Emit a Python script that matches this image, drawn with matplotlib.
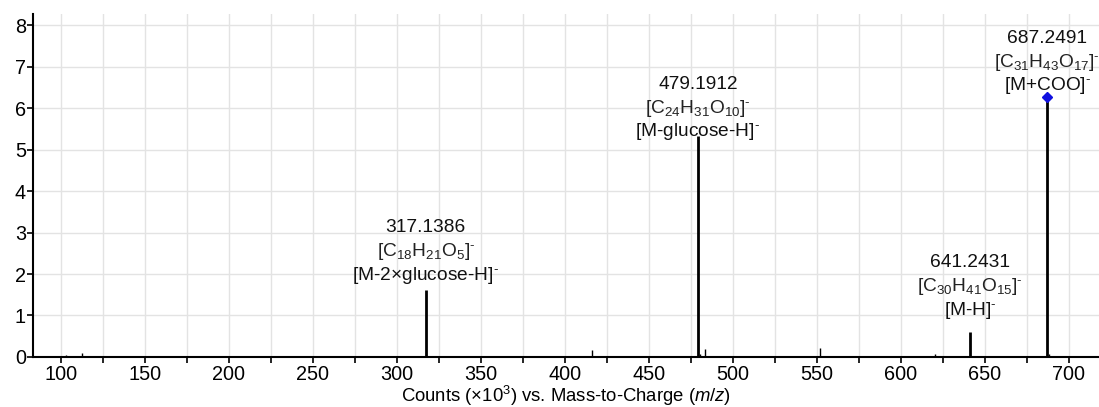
import matplotlib
matplotlib.use('Agg')
import matplotlib.pyplot as plt
from matplotlib.ticker import MultipleLocator

plt.rcParams['font.family'] = ['Liberation Sans', 'DejaVu Sans']
plt.rcParams['mathtext.fontset'] = 'custom'
plt.rcParams['mathtext.rm'] = 'Liberation Sans'
plt.rcParams['mathtext.it'] = 'Liberation Sans:italic'

# picos principais (m/z, contagens x10^3)
mz_main = [317.1386, 479.1912, 641.2431, 687.2491]
int_main = [1.62, 5.32, 0.60, 6.18]

# picos pequenos de fundo
mz_small = [103.0, 112.5, 416.0, 480.3, 483.5, 551.7, 562.0, 574.5, 620.5, 671.5, 688.3]
int_small = [0.05, 0.10, 0.16, 0.07, 0.19, 0.21, 0.03, 0.03, 0.08, 0.03, 0.07]

# textos dos rótulos
lbl_mass = ['317.1386', '479.1912', '641.2431', '687.2491']
lbl_formula = [r'[C$_{18}$H$_{21}$O$_{5}$]$^{\text{-}}$', r'[C$_{24}$H$_{31}$O$_{10}$]$^{\text{-}}$',
               r'[C$_{30}$H$_{41}$O$_{15}$]$^{\text{-}}$', r'[C$_{31}$H$_{43}$O$_{17}$]$^{\text{-}}$']
lbl_ion = [r'[M-2×glucose-H]$^{\text{-}}$', r'[M-glucose-H]$^{\text{-}}$',
           r'[M-H]$^{\text{-}}$', r'[M+COO]$^{\text{-}}$']
lbl_top = [3.11, 6.57, 2.27, 7.68]   # altura da primeira linha de cada rótulo

# pico precursor marcado
prec_mz = [687.2491]
prec_int = [6.27]

fig = plt.figure(figsize=(10.99, 4.07), dpi=100)
ax = fig.add_axes([0.030, 0.1229, 0.970, 0.843])

ax.vlines(mz_small, 0, int_small, color='black', linewidth=1.0)
ax.vlines(mz_main, 0, int_main, color='black', linewidth=2.0)
ax.plot(prec_mz, prec_int, 'D', color='#1010e0', markersize=5.5, zorder=5)

dy = 0.57
for x, m, f, i, y0 in zip(mz_main, lbl_mass, lbl_formula, lbl_ion, lbl_top):
    ax.text(x, y0, m, ha='center', va='center', fontsize=13.8, color='#111111')
    ax.text(x, y0 - dy, f, ha='center', va='center', fontsize=13.8, color='#222222')
    ax.text(x, y0 - 2 * dy, i, ha='center', va='center', fontsize=13.8, color='#111111')

ax.set_xlim(83.3, 718)
ax.set_ylim(0, 8.27)
ax.xaxis.set_major_locator(MultipleLocator(50))
ax.xaxis.set_minor_locator(MultipleLocator(25))
ax.yaxis.set_major_locator(MultipleLocator(1))
ax.grid(True, which='both', axis='x', color='#e3e3e3', linewidth=1.0)
ax.grid(True, which='major', axis='y', color='#e3e3e3', linewidth=1.0)
ax.set_axisbelow(True)

for s in ['top', 'right']:
    ax.spines[s].set_visible(False)
for s in ['left', 'bottom']:
    ax.spines[s].set_linewidth(1.5)
ax.tick_params(axis='both', which='both', length=4, width=1.2, labelsize=14.3, colors='black')
ax.tick_params(axis='x', pad=2)
ax.tick_params(axis='y', pad=1)

ax.set_xlabel('Counts (×10$^{3}$) vs. Mass-to-Charge ($m/z$)', fontsize=13.3, labelpad=0)

fig.savefig('out.png', dpi=100)
